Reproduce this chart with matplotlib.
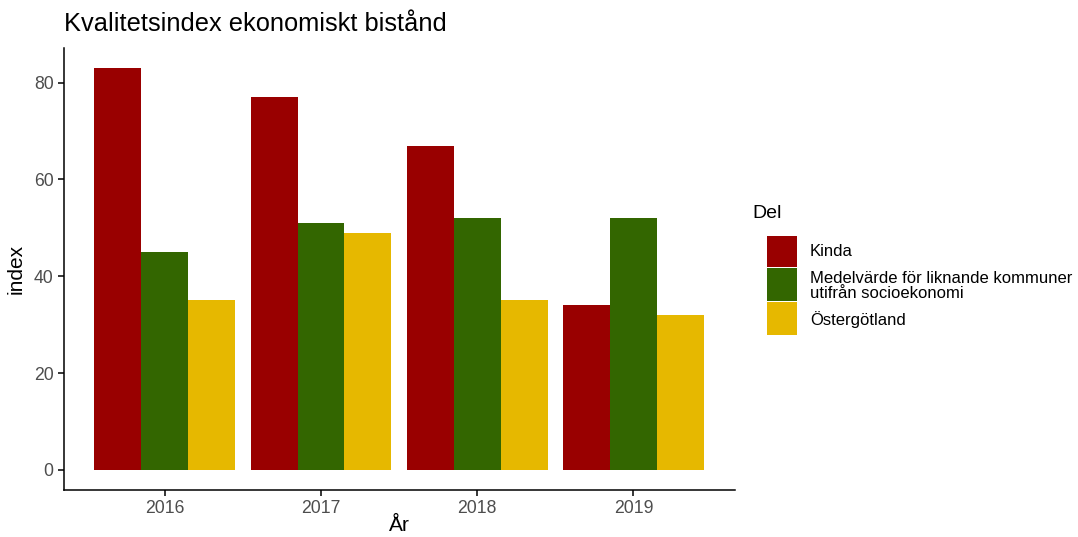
import matplotlib
matplotlib.use("Agg")
import matplotlib.pyplot as plt
from matplotlib.patches import Rectangle
import numpy as np

plt.rcParams['font.family'] = ['Liberation Sans', 'DejaVu Sans']

years = ["2016", "2017", "2018", "2019"]
series_names = ["Kinda", "Medelvärde för liknande kommuner\nutifrån socioekonomi", "Östergötland"]
kinda = [83, 77, 67, 34]
medel = [45, 51, 52, 52]
ostergotland = [35, 49, 35, 32]
colors = ["#990000", "#336600", "#E6B800"]
title = "Kvalitetsindex ekonomiskt bistånd"
legend_title = "Del"
yticks = [0, 20, 40, 60, 80]

W, H = 1078, 537
fig = plt.figure(figsize=(W / 100, H / 100), dpi=100)
ax = fig.add_axes([64 / W, 1 - 490 / H, (735 - 64) / W, (490 - 48) / H])

x = np.arange(len(years))
group_w = 0.9
bw = group_w / 3
for i, (vals, c) in enumerate(zip([kinda, medel, ostergotland], colors)):
    ax.bar(x - group_w / 2 + bw * (i + 0.5), vals, width=bw, color=c, linewidth=0)

ymax = max(max(kinda), max(medel), max(ostergotland))
ax.set_ylim(-0.05 * ymax, ymax * 1.05)
ax.set_xlim(-0.645, len(years) - 1 + 0.65)
ax.set_xticks(x)
ax.set_xticklabels(years)
ax.set_yticks(yticks)
for s in ["top", "right"]:
    ax.spines[s].set_visible(False)
for s in ["left", "bottom"]:
    ax.spines[s].set_linewidth(1.1)
    ax.spines[s].set_color("black")
ax.tick_params(axis="both", colors="#4D4D4D", labelsize=12.7, length=4, width=1.1)
ax.tick_params(axis="both", color="black")
ax.set_xlabel("År", fontsize=15, labelpad=0)
ax.xaxis.set_label_coords(0.5, -45 / (490 - 48), transform=ax.transAxes)
ax.xaxis.label.set_va("bottom")
ax.set_ylabel("index", fontsize=15, labelpad=6)
fig.text(64 / W, 1 - 24 / H, title, fontsize=18.3, ha="left", va="center")

# legend
fig.text(752 / W, 1 - 213 / H, legend_title, fontsize=14, ha="left", va="center")
key_tops = [236, 268, 302]
key_bots = [267, 301, 335]
text_centers = [252, 286, 320]
for c, name, kt, kb, tc in zip(colors, series_names, key_tops, key_bots, text_centers):
    fig.patches.append(Rectangle((767 / W, 1 - kb / H), 30 / W, (kb - kt) / H,
                                 transform=fig.transFigure, facecolor=c, edgecolor="none"))
    fig.text(810 / W, 1 - tc / H, name, fontsize=12, ha="left", va="center", linespacing=1.0)

fig.savefig("out.png", dpi=100)
